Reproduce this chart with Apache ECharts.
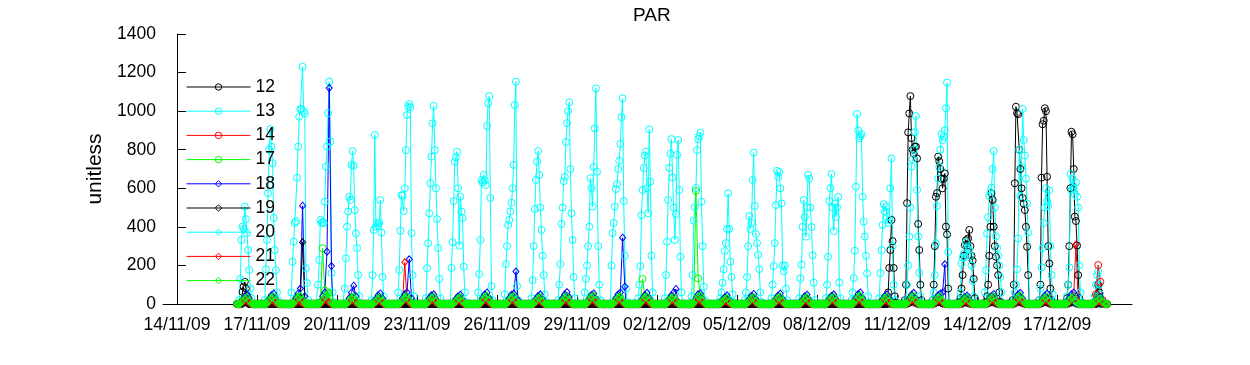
<!DOCTYPE html>
<html><head><meta charset="utf-8">
<script src="https://cdn.jsdelivr.net/npm/echarts@6/dist/echarts.min.js"></script>
<style>html,body{margin:0;padding:0;background:#fff}#c{width:1250px;height:365px}</style>
</head><body><div id="c"></div>
<script>
// ---------- data ----------
const TITLE = 'PAR';
const Y_NAME = 'unitless';
// x in days since 14/11/09 00:00
const TICK_DAYS = [0, 3, 6, 9, 12, 15, 18, 21, 24, 27, 30, 33];
const TICK_LABELS = ['14/11/09', '17/11/09', '20/11/09', '23/11/09', '26/11/09', '29/11/09',
  '02/12/09', '05/12/09', '08/12/09', '11/12/09', '14/12/09', '17/12/09'];
const FIRST_DAY = 2;          // 16/11/09
const DATA_START_HOUR = 6;    // first sample on 16/11/09
const DATA_END_HOUR = 21;     // last sample on 18/12/09
// days: 16/11 ... 18/12 (33 days)
const MAIN_HOURS = [7, 8, 9, 10, 11, 12, 13, 14, 15, 16, 17, 18, 19, 20, 21, 22];
const SMALL_HOURS = [9, 11, 13, 15, 17, 19];

const S12 = [
  [0,0,0,0,63,90,115,80,40,10,0,0,0,0,0,0],
  [],[],[],[],[],[],[],[],[],[],[],[],[],[],[],[],[],[],[],[],[],[],[],
  [0,0,0,0,0,0,0,0,0,60,187,280,436,326,187,40],
  [20,100,523,890,988,1078,860,800,780,816,816,755,415,280,100,20],
  [0,20,100,300,556,575,764,740,700,650,600,650,677,401,361,80],
  [0,10,30,80,150,250,305,331,300,340,384,300,250,225,130,30],
  [0,10,40,100,250,400,574,540,401,300,245,200,150,60,10,0],
  [0,20,100,626,1023,990,984,800,700,600,550,520,487,400,297,150],
  [0,20,100,655,932,950,1015,1000,660,300,210,80,20,0,0,0],
  [0,10,30,100,300,600,893,880,700,453,430,303,150,30,0,0],
  [0,0,0,0,0,40,100,60,20,0,0,0,0,0,0,0]
];
const S13 = [
  [0,20,130,332,401,390,505,440,368,280,176,80,30,0,0,0],
  [20,180,332,575,800,907,816,730,446,280,176,60,20,0,0,0],
  [60,219,323,420,430,655,816,971,1010,1010,1230,1000,988,185,109,20],
  [100,228,436,420,425,420,530,712,816,990,1153,842,160,60,10,0],
  [80,237,401,479,556,540,721,793,717,487,366,290,150,40,0,0],
  [20,150,384,876,401,420,408,420,539,370,140,40,0,0,0,0],
  [60,176,380,565,562,482,600,798,980,1023,1037,1020,368,150,40,0],
  [0,30,185,315,470,626,764,937,1027,798,600,440,290,130,30,0],
  [187,321,534,738,760,790,600,302,556,479,446,193,60,10,0,0],
  [60,156,332,643,630,669,640,617,923,1040,1078,550,93,20,0,0],
  [50,207,300,410,436,480,525,600,721,1032,1153,93,20,0,0,0],
  [30,124,300,492,643,738,793,669,500,384,250,150,50,10,0,0],
  [20,100,207,415,500,637,660,840,938,1000,1046,700,471,332,140,30],
  [60,130,200,300,401,653,600,505,710,911,1118,686,300,100,20,0],
  [199,368,420,505,596,622,700,743,830,969,1066,534,250,80,10,0],
  [30,100,197,460,591,705,770,790,600,471,906,634,250,60,0,0],
  [30,150,323,539,705,780,855,656,500,332,466,773,850,591,245,60],
  [40,150,432,502,601,798,855,870,888,530,300,90,20,0,0,0],
  [0,10,30,60,110,180,275,316,389,574,389,219,140,50,10,0],
  [20,60,140,300,456,389,420,643,785,508,363,316,255,181,60,10],
  [30,100,197,316,513,690,660,685,600,522,200,170,200,80,20,0],
  [0,30,133,204,400,539,451,349,500,669,650,500,399,253,111,20],
  [0,30,100,245,534,600,674,500,378,520,452,500,555,112,30,0],
  [20,60,135,276,608,985,900,860,870,881,556,427,350,250,159,40],
  [0,30,160,279,410,518,480,505,450,420,435,600,755,300,100,20],
  [0,20,100,200,349,500,712,750,800,890,975,591,350,162,40,0],
  [0,20,60,150,315,508,649,709,800,880,850,867,900,1015,1148,270],
  [0,20,60,210,240,260,243,321,290,300,280,250,200,120,40,0],
  [60,175,365,450,560,580,603,700,793,500,350,290,250,200,140,60],
  [0,0,20,60,100,180,340,800,560,710,1011,850,770,650,522,370],
  [0,20,80,190,290,420,500,600,535,510,590,300,150,50,10,0],
  [0,10,40,100,190,674,590,650,600,570,630,556,500,200,60,10],
  [0,0,0,40,100,150,170,100,50,20,0,0,0,0,0,0]
];
const S14 = [
  [2,8,16,12,5,1],[1,7,15,11,4,1],[2,9,18,14,6,1],[3,10,20,15,6,2],[2,8,16,12,5,1],
  [1,7,14,10,4,1],[2,9,18,14,6,1],[2,8,17,13,5,1],[1,7,15,11,4,1],[2,9,19,14,6,2],
  [2,8,17,13,5,1],[1,7,15,11,4,1],[2,8,17,13,5,1],[2,9,19,15,6,2],[2,8,18,13,5,1],
  [2,9,18,14,6,1],[2,8,16,12,5,1],[3,10,20,15,6,2],[1,6,13,10,4,1],[2,7,15,11,5,1],
  [2,8,17,13,5,1],[1,7,15,11,4,1],[2,8,16,12,5,1],[2,9,19,15,6,2],[2,8,16,12,5,1],
  [2,9,18,14,6,1],[2,8,17,13,5,1],[1,6,14,10,4,1],[2,8,17,13,5,1],[2,9,19,15,6,2],
  [2,8,17,13,5,1],[2,9,20,16,8,2],[5,50,202,115,20,3]
];
const S17 = [
  [5,20,35,25,10,3],[4,22,38,30,12,2],[6,25,40,35,15,4],[10,289,70,60,30,5],[5,20,36,28,12,3],
  [4,18,32,30,10,2],[6,24,40,34,14,4],[5,22,38,30,12,3],[4,20,34,26,10,2],[6,26,42,32,14,4],
  [5,24,40,36,12,3],[4,20,35,28,10,2],[5,22,38,30,12,3],[6,25,42,34,15,4],[5,23,40,32,12,3],
  [6,130,40,30,12,3],[5,22,36,30,14,3],[8,586,133,40,15,4],[4,18,30,24,10,2],[5,20,34,28,12,3],
  [5,22,38,30,12,3],[4,20,35,28,10,2],[5,22,36,30,12,3],[6,25,42,34,14,4],[5,20,35,28,12,3],
  [6,24,40,32,14,4],[5,22,38,30,12,3],[4,18,32,26,10,2],[5,22,38,30,12,3],[6,24,40,34,14,4],
  [5,22,36,30,12,3],[5,20,35,28,10,3],[4,18,30,22,8,2]
];
const S18 = [
  [5,20,40,50,30,5],[5,25,45,55,25,5],[8,30,55,80,510,40],[10,40,60,271,1120,197],[5,30,60,95,40,5],
  [5,25,45,55,30,5],[6,30,50,60,232,30],[5,28,45,50,25,5],[5,25,40,48,22,4],[6,30,50,60,30,5],
  [5,28,48,55,168,20],[5,25,42,50,25,4],[6,30,50,62,35,6],[5,26,46,55,28,5],[6,30,50,60,344,90],
  [5,28,46,58,30,5],[5,25,45,60,78,10],[6,30,50,55,25,5],[4,20,35,45,20,4],[5,25,42,52,25,5],
  [5,26,44,54,26,5],[4,22,40,48,22,4],[5,25,42,50,24,5],[6,30,52,60,30,6],[5,25,42,50,25,5],
  [6,28,48,58,28,5],[5,25,45,55,60,206],[4,20,36,44,20,4],[5,25,42,52,25,5],[6,28,50,58,28,6],
  [5,25,44,54,26,5],[5,30,50,60,40,6],[4,20,30,36,15,3]
];
const S19 = [
  [0,3,8,6,2,0],[0,4,9,7,2,0],[1,6,15,30,320,10],[1,5,12,10,3,0],[0,3,8,6,2,0],
  [0,3,7,5,2,0],[0,4,10,8,3,0],[0,3,8,6,2,0],[0,3,7,5,2,0],[0,4,10,8,3,0],
  [0,4,9,7,2,0],[0,3,7,5,2,0],[0,4,9,7,2,0],[0,4,10,8,3,0],[0,4,9,7,2,0],
  [0,4,10,8,3,0],[0,3,8,6,2,0],[1,5,12,9,3,0],[0,2,6,5,1,0],[0,3,8,6,2,0],
  [0,4,9,7,2,0],[0,3,7,5,2,0],[0,3,8,6,2,0],[0,4,10,8,3,0],[0,3,8,6,2,0],
  [0,4,10,8,3,0],[0,4,9,7,2,0],[0,2,6,5,1,0],[0,4,9,7,2,0],[0,4,10,8,3,0],
  [0,4,9,7,2,0],[0,3,8,6,2,0],[0,2,6,4,1,0]
];
const S20 = [
  [2,10,22,18,8,2],[2,11,24,19,8,2],[3,12,26,20,9,2],[3,13,28,22,10,3],[2,10,22,18,8,2],
  [2,9,20,16,7,2],[3,12,26,20,9,2],[2,11,24,19,8,2],[2,10,21,17,7,2],[3,12,27,21,9,3],
  [2,11,25,20,8,2],[2,10,22,17,7,2],[2,11,24,19,8,2],[3,12,27,21,9,3],[2,11,25,20,8,2],
  [3,12,26,20,9,2],[2,10,23,18,8,2],[3,13,28,22,10,3],[2,8,18,14,6,1],[2,10,21,17,7,2],
  [2,11,24,19,8,2],[2,10,22,17,7,2],[2,10,23,18,8,2],[3,12,27,21,9,3],[2,10,22,18,8,2],
  [3,12,26,20,9,2],[2,11,24,19,8,2],[2,9,19,15,6,2],[2,11,24,19,8,2],[3,12,27,21,9,3],
  [2,11,24,19,8,2],[2,10,22,18,8,2],[2,8,17,13,5,1]
];
const S21 = [
  [1,10,20,15,6,1],[1,9,19,14,5,1],[2,11,22,17,6,1],[2,12,24,18,7,2],[1,10,20,15,6,1],
  [1,9,18,13,5,1],[2,12,216,20,8,1],[1,10,21,16,6,1],[1,9,19,14,5,1],[2,11,23,17,7,2],
  [1,10,21,16,6,1],[1,9,19,14,5,1],[1,10,21,16,6,1],[2,11,23,18,7,2],[1,10,22,16,6,1],
  [2,11,22,17,6,1],[1,10,20,15,6,1],[2,12,24,18,7,2],[1,8,16,12,4,1],[1,9,19,14,5,1],
  [1,10,21,16,6,1],[1,9,19,14,5,1],[1,10,20,15,6,1],[2,11,23,18,7,2],[1,10,20,15,6,1],
  [2,11,22,17,6,1],[1,10,21,16,6,1],[1,8,17,13,5,1],[1,10,21,16,6,1],[2,11,23,18,7,2],
  [1,10,21,16,6,1],[2,10,20,40,309,10],[1,8,16,12,4,1]
];
const S22 = [
  [3,15,30,38,18,4],[4,18,34,40,20,5],[5,20,36,42,22,5],[6,22,40,45,60,6],[4,16,32,38,18,4],
  [3,14,28,36,16,3],[5,20,36,40,20,5],[4,18,33,38,18,4],[3,15,30,35,16,3],[5,20,38,44,22,5],
  [4,18,35,42,20,4],[3,16,30,36,16,3],[4,18,34,40,20,4],[5,20,38,44,22,5],[4,19,35,40,20,4],
  [5,20,36,40,20,5],[4,18,33,38,18,4],[6,22,40,44,22,5],[3,14,26,32,14,3],[4,16,30,36,16,4],
  [4,18,34,40,18,4],[3,16,30,36,16,3],[4,17,32,38,17,4],[5,20,38,44,22,5],[4,16,32,38,18,4],
  [5,20,36,42,20,5],[4,18,34,40,18,4],[3,14,28,34,14,3],[4,18,34,40,18,4],[5,20,38,44,22,5],
  [4,18,34,40,18,4],[4,17,32,38,16,4],[3,14,26,30,12,3]
];

// ---------- build ----------
function build(days, hours) {
  const pts = [];
  const n = days.length;
  const hFirst = hours[0], hLast = hours[hours.length - 1];
  for (let i = 0; i < n; i++) {
    const vals = days[i];
    for (let h = 0; h < 24; h++) {
      if (i === 0 && h < DATA_START_HOUR) continue;
      if (i === n - 1 && h > DATA_END_HOUR) continue;
      const k = hours.indexOf(h);
      let v;
      if (k >= 0) v = vals.length ? vals[k] : 0;
      else if (h > hFirst && h < hLast) continue;
      else v = 0;
      pts.push([FIRST_DAY + i + h / 24, v]);
    }
  }
  return pts;
}

const FONT = 'Liberation Sans, Arial, Helvetica, sans-serif';
const STYLE = [
  { name: '12', data: S12, hours: MAIN_HOURS, color: '#000000', symbol: 'circle' },
  { name: '13', data: S13, hours: MAIN_HOURS, color: '#00ffff', symbol: 'circle' },
  { name: '14', data: S14, hours: SMALL_HOURS, color: '#ff0000', symbol: 'circle' },
  { name: '17', data: S17, hours: SMALL_HOURS, color: '#00ff00', symbol: 'circle' },
  { name: '18', data: S18, hours: SMALL_HOURS, color: '#0000ff', symbol: 'diamond' },
  { name: '19', data: S19, hours: SMALL_HOURS, color: '#000000', symbol: 'diamond' },
  { name: '20', data: S20, hours: SMALL_HOURS, color: '#00ffff', symbol: 'diamond' },
  { name: '21', data: S21, hours: SMALL_HOURS, color: '#ff0000', symbol: 'diamond' },
  { name: '22', data: S22, hours: SMALL_HOURS, color: '#00ff00', symbol: 'diamond' }
];

const series = STYLE.map(s => ({
  name: s.name,
  type: 'line',
  data: build(s.data, s.hours),
  symbol: s.symbol,
  symbolSize: s.symbol === 'circle' ? 7 : [6, 7],
  showSymbol: true,
  clip: false,
  silent: true,
  lineStyle: { color: s.color, width: 1 },
  itemStyle: { color: 'rgba(0,0,0,0)', borderColor: s.color, borderWidth: 1 },
  emphasis: { disabled: true }
}));

const chart = echarts.init(document.getElementById('c'), null, { renderer: 'canvas' });
chart.setOption({
  animation: false,
  backgroundColor: '#ffffff',
  textStyle: { fontFamily: FONT },
  title: {
    text: TITLE, left: 628, top: 1,
    textStyle: { fontSize: 19, fontWeight: 'normal', color: '#000', fontFamily: FONT }
  },
  grid: { left: 163, right: 118, top: 34, bottom: 61, containLabel: false },
  legend: {
    orient: 'vertical', left: 186, top: 78, padding: 0,
    itemWidth: 64, itemHeight: 8, itemGap: 6.2,
    selectedMode: false,
    data: STYLE.map(s => s.name),
    textStyle: { fontSize: 17.5, color: '#000', fontFamily: FONT },
    itemStyle: { borderWidth: 1 },
    lineStyle: { width: 1 }
  },
  xAxis: {
    type: 'value', min: -0.525, max: 35.81,
    axisLine: { show: true, onZero: false, lineStyle: { color: '#000', width: 1 } },
    axisTick: { show: true, inside: true, length: 9, customValues: TICK_DAYS, lineStyle: { color: '#000' } },
    axisLabel: {
      customValues: TICK_DAYS, color: '#000', fontSize: 17.5, margin: 12, fontFamily: FONT,
      formatter: v => TICK_LABELS[Math.round(v / 3)] || ''
    },
    splitLine: { show: false }
  },
  yAxis: {
    type: 'value', min: 0, max: 1400, interval: 200,
    name: Y_NAME, nameLocation: 'middle', nameGap: 44, nameRotate: 90,
    nameTextStyle: { fontSize: 21, color: '#000', fontFamily: FONT },
    axisLine: { show: true, lineStyle: { color: '#000', width: 1 } },
    axisTick: { show: true, inside: true, length: 9, lineStyle: { color: '#000' } },
    axisLabel: { color: '#000', fontSize: 17.5, margin: 7, fontFamily: FONT, formatter: v => String(v) },
    splitLine: { show: false }
  },
  series: series
});
</script></body></html>
